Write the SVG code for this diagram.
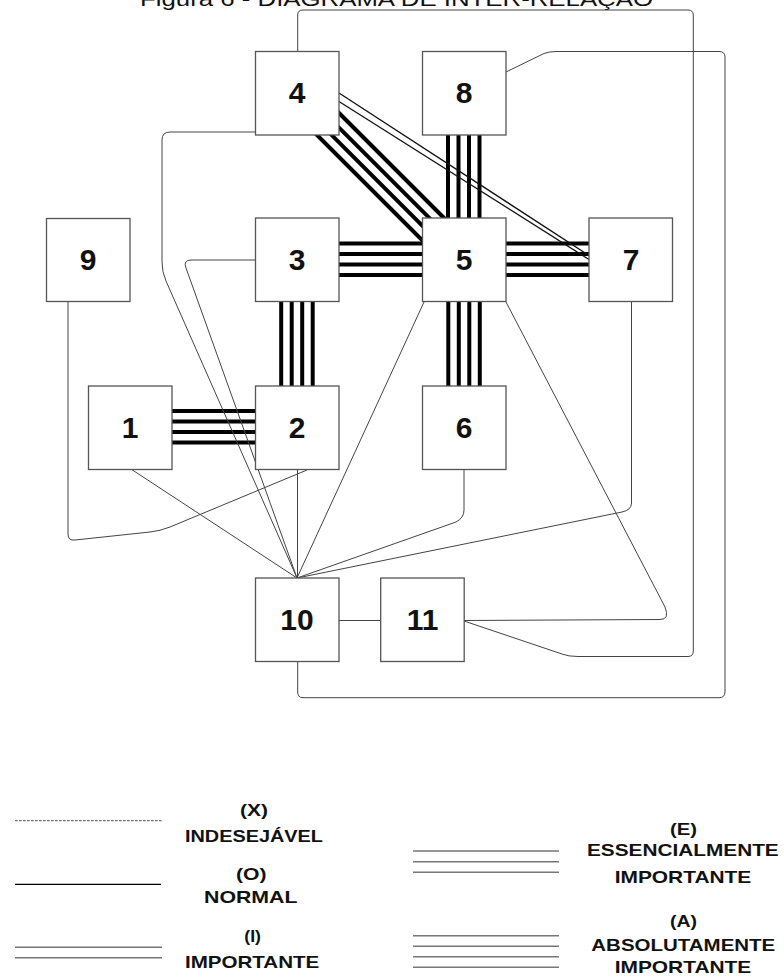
<svg xmlns="http://www.w3.org/2000/svg" width="784" height="979" viewBox="0 0 784 979">
<style>
.box{fill:#fff;stroke:#555;stroke-width:1.3}
.lbl{font-family:"Liberation Sans",Arial,sans-serif;font-weight:bold;font-size:30px;text-anchor:middle;fill:#111}
.thin{fill:none;stroke:#444;stroke-width:1}
.a{stroke:#000;stroke-width:4;fill:none}
.dbl{stroke:#111;stroke-width:1.3;fill:none}
.leg{font-family:"Liberation Sans",Arial,sans-serif;font-weight:bold;font-size:17px;fill:#111}
.lg{stroke:#777;stroke-width:1.5}
</style>
<rect width="784" height="979" fill="#fff"/>
<text x="140" y="6" font-family="'Liberation Sans',Arial,sans-serif" font-size="20" textLength="513" lengthAdjust="spacingAndGlyphs" fill="#111">Figura 6 - DIAGRAMA DE INTER-RELAÇÃO</text>
<g id="connectors">
  <!-- absolutely important (4 lines) -->
  <g class="a">
    <!-- 1-2 -->
    <line x1="130" y1="411" x2="297" y2="411"/>
    <line x1="130" y1="421.5" x2="297" y2="421.5"/>
    <line x1="130" y1="432" x2="297" y2="432"/>
    <line x1="130" y1="442.5" x2="297" y2="442.5"/>
    <!-- 3-2 -->
    <line x1="281.2" y1="260" x2="281.2" y2="428"/>
    <line x1="291.7" y1="260" x2="291.7" y2="428"/>
    <line x1="302.2" y1="260" x2="302.2" y2="428"/>
    <line x1="312.7" y1="260" x2="312.7" y2="428"/>
    <!-- 3-5 -->
    <line x1="297" y1="243.5" x2="464" y2="243.5"/>
    <line x1="297" y1="254" x2="464" y2="254"/>
    <line x1="297" y1="264.5" x2="464" y2="264.5"/>
    <line x1="297" y1="275" x2="464" y2="275"/>
    <!-- 5-7 -->
    <line x1="464" y1="243.5" x2="631" y2="243.5"/>
    <line x1="464" y1="254" x2="631" y2="254"/>
    <line x1="464" y1="264.5" x2="631" y2="264.5"/>
    <line x1="464" y1="275" x2="631" y2="275"/>
    <!-- 8-5 -->
    <line x1="448" y1="93" x2="448" y2="260"/>
    <line x1="458.5" y1="93" x2="458.5" y2="260"/>
    <line x1="469" y1="93" x2="469" y2="260"/>
    <line x1="479.5" y1="93" x2="479.5" y2="260"/>
    <!-- 5-6 -->
    <line x1="448.3" y1="260" x2="448.3" y2="428"/>
    <line x1="458.8" y1="260" x2="458.8" y2="428"/>
    <line x1="469.3" y1="260" x2="469.3" y2="428"/>
    <line x1="479.8" y1="260" x2="479.8" y2="428"/>
    <!-- 4-5 diagonal -->
    <line x1="308" y1="82" x2="475" y2="249"/>
    <line x1="300.7" y1="89.3" x2="467.7" y2="256.3"/>
    <line x1="293.3" y1="96.7" x2="460.3" y2="263.7"/>
    <line x1="286" y1="104" x2="453" y2="271"/>
  </g>
  <!-- important (double) 4-7 -->
  <line class="dbl" x1="339" y1="93" x2="589" y2="255.5"/>
  <line class="dbl" x1="339" y1="101.5" x2="589" y2="259.5"/>
  <!-- normal connectors -->
  <path class="thin" d="M255,132 L170,132 Q162,132 162,140 L162,262 Q162,272 166,281 L297,578"/>
  <path class="thin" d="M255,260 L191,260 Q183,260 186,268 L297,578"/>
  <path class="thin" d="M68,301 L68,534 Q68,541 75,540 L150,532 Q160,531 170,527 L307,470"/>
  <path class="thin" d="M131.7,469.5 L297,578"/>
  <path class="thin" d="M297.5,470 L297.5,578"/>
  <path class="thin" d="M424,302 L297,578"/>
  <path class="thin" d="M464,470 L464,510 Q464,518 456,522 L297,578"/>
  <path class="thin" d="M631.5,302 L631.5,503 Q631.5,510 622,512 L297,578"/>
  <path class="thin" d="M506,302 L665,607 Q670,619.5 660,619.5 L464,620.5"/>
  <path class="thin" d="M464,621 L562,654 Q568,656.5 578,656.5 L688,656.5 Q693.3,656.5 693.3,651 L693.3,15 Q693.3,10 688,10 L303,10 Q297.7,10 297.7,15 L297.7,51"/>
  <path class="thin" d="M506,72 L544,53.5 Q549,51.5 557,51.5 L719,51.5 Q725,51.5 725,57 L725,692 Q725,697.7 719,697.7 L303,697.7 Q297.7,697.7 297.7,692 L297.7,662"/>
  <path class="thin" d="M339,620.5 L380.7,620.5"/>
</g>
<g id="n4"><rect class="box" x="255.5" y="51.5" width="83.5" height="83.5"/><text class="lbl" x="297" y="103">4</text></g>
<g id="n8"><rect class="box" x="422.5" y="51.5" width="83.5" height="83.5"/><text class="lbl" x="464" y="103">8</text></g>
<g id="n9"><rect class="box" x="46.5" y="218.5" width="83.5" height="83" /><text class="lbl" x="88" y="270">9</text></g>
<g id="n3"><rect class="box" x="255.5" y="218" width="83.5" height="83.5"/><text class="lbl" x="297" y="270">3</text></g>
<g id="n5"><rect class="box" x="422.5" y="218" width="83.5" height="83.5"/><text class="lbl" x="464" y="270">5</text></g>
<g id="n7"><rect class="box" x="589" y="218" width="83.5" height="83.5"/><text class="lbl" x="631" y="270">7</text></g>
<g id="n1"><rect class="box" x="88.5" y="386" width="83.5" height="83.5"/><text class="lbl" x="130" y="438">1</text></g>
<g id="n2"><rect class="box" x="255.5" y="386" width="83.5" height="83.5"/><text class="lbl" x="297" y="438">2</text></g>
<g id="n6"><rect class="box" x="422.5" y="386" width="83.5" height="83.5"/><text class="lbl" x="464" y="438">6</text></g>
<g id="n10"><rect class="box" x="255.5" y="578" width="83.5" height="83.5"/><text class="lbl" x="297" y="630">10</text></g>
<g id="n11"><rect class="box" x="380.7" y="578" width="83.5" height="83.5"/><text class="lbl" x="422.5" y="630">11</text></g>
<g id="legend">
  <line x1="15" y1="820.7" x2="162" y2="820.7" stroke="#555" stroke-width="1" stroke-dasharray="2.7 1.3"/>
  <text class="leg" x="240" y="816" textLength="28" lengthAdjust="spacingAndGlyphs">(X)</text>
  <text class="leg" x="185" y="841.7" textLength="138" lengthAdjust="spacingAndGlyphs">INDESEJÁVEL</text>
  <line x1="15" y1="884.3" x2="161" y2="884.3" stroke="#000" stroke-width="1.3"/>
  <text class="leg" x="236" y="880" textLength="30.5" lengthAdjust="spacingAndGlyphs">(O)</text>
  <text class="leg" x="204" y="903.3" textLength="93.5" lengthAdjust="spacingAndGlyphs">NORMAL</text>
  <line class="lg" x1="15" y1="947.3" x2="162" y2="947.3"/>
  <line class="lg" x1="15" y1="957.7" x2="162" y2="957.7"/>
  <text class="leg" x="244.3" y="941.7" textLength="16.7" lengthAdjust="spacingAndGlyphs">(I)</text>
  <text class="leg" x="185" y="968.3" textLength="134.3" lengthAdjust="spacingAndGlyphs">IMPORTANTE</text>
  <line class="lg" x1="413" y1="851" x2="559" y2="851"/>
  <line class="lg" x1="413" y1="861.7" x2="559" y2="861.7"/>
  <line class="lg" x1="413" y1="872.3" x2="559" y2="872.3"/>
  <text class="leg" x="670" y="834.5" textLength="27" lengthAdjust="spacingAndGlyphs">(E)</text>
  <text class="leg" x="587" y="856" textLength="191.7" lengthAdjust="spacingAndGlyphs">ESSENCIALMENTE</text>
  <text class="leg" x="614.7" y="883.3" textLength="136.6" lengthAdjust="spacingAndGlyphs">IMPORTANTE</text>
  <line class="lg" x1="413" y1="935.7" x2="559" y2="935.7"/>
  <line class="lg" x1="413" y1="946.2" x2="559" y2="946.2"/>
  <line class="lg" x1="413" y1="956.7" x2="559" y2="956.7"/>
  <line class="lg" x1="413" y1="967.2" x2="559" y2="967.2"/>
  <text class="leg" x="670" y="926.7" textLength="27" lengthAdjust="spacingAndGlyphs">(A)</text>
  <text class="leg" x="591.3" y="950.7" textLength="184" lengthAdjust="spacingAndGlyphs">ABSOLUTAMENTE</text>
  <text class="leg" x="614.7" y="973.3" textLength="136.6" lengthAdjust="spacingAndGlyphs">IMPORTANTE</text>
</g>
</svg>
